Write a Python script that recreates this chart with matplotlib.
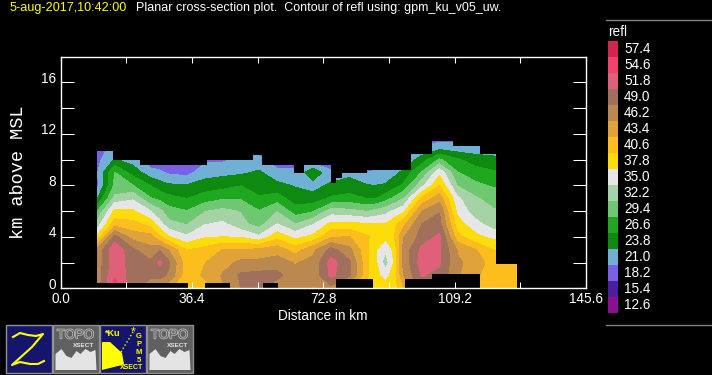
import numpy as np
from matplotlib import pyplot as plt
from matplotlib import patheffects
from matplotlib.patches import Rectangle, Polygon
from matplotlib.transforms import ScaledTranslation

plt.rcParams['font.family'] = ['Liberation Sans', 'DejaVu Sans']

levels = [12.6, 15.4, 18.2, 21.0, 23.8, 26.6, 29.4, 32.2, 35.0, 37.8, 40.6, 43.4, 46.2, 49.0, 51.8, 54.6, 57.4]
colors = ['#8b0f92', '#4a1e9e', '#7a60e6', '#6fb0d4', '#0f8a10', '#1fa81f', '#6ec871', '#a5d3a5', '#e6e6e6',
		'#fcdc0a', '#fbbe1c', '#e0a33a', '#bb8850', '#a0705c', '#e0607a', '#f0416f', '#d0254f']

heights = [0, 1, 2, 3, 4, 5, 6, 7, 8, 9, 10, 11, 12] #km
distances = [10, 15, 20, 25, 27.5, 30, 35, 40, 45, 50, 55, 60, 65, 70, 75, 80, 85, 87.5, 90, 92.5, 95, 100, 105, 110, 115, 120, 125, 130] #km

# one line per distance, bottom to top
refl_by_column = [
	[47, 47, 47, 46.5, 38, 33, 29, 23.2, 20, 20.5, 20, 19, 18],
	[56, 54.4, 53.5, 54, 50, 42, 38.5, 33, 30, 29.5, 24, 22, 20],
	[50, 50, 50.5, 49.5, 45, 41.5, 38.2, 34.5, 29.5, 25.5, 22.5, 21, 20],
	[47, 49.5, 49.5, 47, 44.5, 39.5, 35, 29.5, 26.5, 22, 19, 19, 18],
	[46, 50, 52.5, 48.8, 41, 36, 33, 28.5, 25, 21.5, 19, 19, 18],
	[44, 48.5, 49.5, 46, 38, 33, 30.5, 27.5, 24.2, 20.5, 19, 18.5, 18],
	[40, 41.5, 41.5, 40.5, 35.5, 32, 29.5, 26.5, 24, 20, 18.5, 18, 18],
	[42, 44, 43.3, 41.5, 37.5, 34.8, 32, 28, 25, 22.5, 20.5, 19, 18],
	[46, 46.5, 45, 43.5, 37.8, 35.5, 33, 29, 25.5, 23, 20.5, 19, 18],
	[49, 49.5, 47, 43.5, 37.5, 33, 32, 29, 26.5, 23.3, 21.5, 19, 18],
	[49, 50, 47, 44, 35.5, 31, 29.5, 27, 25, 24.2, 22, 19, 18],
	[47, 50, 47.5, 45, 39.5, 35, 32, 28, 24.5, 22, 19, 18.5, 18],
	[48, 47, 46, 42, 37, 32.2, 28, 25, 23.6, 21.5, 20, 19, 18],
	[46, 47, 47, 45.5, 38.5, 34.8, 29, 25, 22.5, 26, 19, 18.5, 18],
	[48, 52.5, 53, 50, 43, 38.5, 33.5, 27, 24.5, 21.5, 19, 18.5, 18],
	[42, 49.5, 49.5, 47, 43.5, 38.5, 33, 27.5, 25, 23, 20, 19, 18],
	[40, 41, 41, 41, 41, 38, 32, 26.5, 23.9, 21, 19, 18.5, 18],
	[39, 38.5, 38, 38, 39, 38, 33, 26.5, 23.8, 21.5, 19, 18.5, 18],
	[39, 36.8, 33.5, 35.3, 38.5, 37.8, 34, 28, 24, 22.5, 20, 19, 18],
	[39.5, 39, 38.2, 38.5, 40.6, 40, 35.5, 30, 25.5, 23, 20.5, 19, 18],
	[43, 46, 47, 47, 46, 42.5, 37, 32, 27, 24.5, 21.5, 20, 18.5],
	[50, 52, 53, 52.5, 50, 49, 46, 41, 34, 29.5, 25, 21, 20],
	[47, 51, 52.2, 52.2, 52.5, 50, 48.8, 45, 40.5, 37, 29.8, 22, 19],
	[45, 46.5, 46.5, 46, 41.5, 39, 37, 35.5, 32, 29.5, 27, 21.5, 20],
	[43, 44, 45.5, 43.5, 38.5, 36, 33.5, 32.5, 30, 28, 25, 22, 20],
	[41.5, 41.5, 41.5, 40.5, 37, 33.5, 32.5, 31, 29, 27, 24.5, 22, 20],
	[41.5, 41.5, 41.5, 41, 38, 34, 33, 31, 29, 27, 24, 22, 20],
	[41.5, 41.5, 41.5, 41, 38, 34, 33, 31, 29, 27, 24, 22, 20],
]

# outline of the echo, stepped
edge_km = [10.1, 14.5, 22.0, 35.4, 40.1, 40.5, 46.9, 53.4, 55.8, 56.2, 60.3, 64.7, 67.4, 74.9, 76.3, 77.9, 85.0, 86.5, 95.4, 97.1, 102.9, 108.8, 116.2, 120.6, 126.5]
echo_top = [10.7, 10.0, 9.6, 9.6, 9.6, 10.0, 10.0, 10.35, 9.6, 9.6, 9.6, 8.95, 9.6, 8.2, 8.6, 8.95, 9.2, 9.2, 9.2, 10.4, 11.45, 11.07, 10.4, 1.87, 1.87]
echo_bottom = [0.4, 0.4, 0.4, 0, 0.4, 0.4, 0, 0, 0, 0.4, 0, 0, 0, 0, 0.7, 0.7, 0.7, 0, 0.7, 0.7, 1.1, 1.1, 0, 0, 0]

fig = plt.figure(figsize=(7.12, 3.75), dpi=100, facecolor='black')
ax = fig.add_axes([60.5/712, (375-288.3)/375, 525.5/712, 231.8/375], facecolor='black')

refl = np.array(refl_by_column).T
cs = ax.contourf(distances, heights, refl, levels=levels+[60.2], colors=colors, antialiased=False)
outline = ax.fill_between(edge_km, echo_bottom, echo_top, step='post', facecolor='none', edgecolor='none')
cs.set_clip_path(outline.get_paths()[0], ax.transData)

ax.set_xlim(0, 145.6)
ax.set_ylim(0, 18)
ax.set_xticks([0, 36.4, 72.8, 109.2, 145.6])
ax.set_xticklabels(['0.0', '36.4', '72.8', '109.2', '145.6'])
ax.set_xticks([18.2, 54.6, 91.0, 127.4], minor=True)
ax.set_yticks([0, 4, 8, 12, 16])
ax.set_yticks([2, 6, 10, 14], minor=True)
ax.tick_params(axis='x', which='both', direction='in', length=4.3, width=0.75, color='white', top=True, labelcolor='white', labelsize=9.8, pad=3)
ax.tick_params(axis='y', which='both', direction='in', length=9.4, width=0.75, color='white', right=True, labelcolor='white', labelsize=9.8, pad=3)
for s in ax.spines.values():
	s.set_color('white')
	s.set_linewidth(1.0)
ax.set_xlabel('Distance in km', color='white', fontsize=9.8, labelpad=2)

# y tick labels sit a bit above their ticks
up = ScaledTranslation(0, 5/100., fig.dpi_scale_trans)
for lab in ax.get_yticklabels():
	lab.set_transform(lab.get_transform()+up)

# everything outside the plot in pixels
px = fig.add_axes([0, 0, 1, 1], facecolor='none')
px.set_xlim(0, 712)
px.set_ylim(375, 0)
px.axis('off')

px.text(10, 8.5, '5-aug-2017,10:42:00', color='#ffff00', fontsize=9.05, va='center')
px.text(136.5, 8.5, 'Planar cross-section plot.  Contour of refl using: gpm_ku_v05_uw.', color='white', fontsize=9.0, va='center')
px.text(19, 172, 'km above MSL', color='white', fontsize=13.4, family='Liberation Mono', rotation=90, ha='center', va='center')

# colour key, top block is the highest level
px.plot([606, 712], [19.5, 19.5], color='#808080', lw=1)
px.plot([606, 712], [324.5, 324.5], color='#808080', lw=1)
px.text(608, 32, 'refl', color='white', fontsize=9.8, va='center')
for i, (lev, col) in enumerate(zip(levels[::-1], colors[::-1])):
	px.add_patch(Rectangle((608, 41+16*i), 10, 16, facecolor=col, edgecolor='none'))
	px.text(624, 49+16*i, '%.1f' % lev, color='white', fontsize=9.8, va='center')

def icon(x, face):
	px.add_patch(Rectangle((x, 325), 46, 47.5, facecolor=face, edgecolor='#909090', lw=1))

def topo_icon(x):
	icon(x, '#606060')
	px.text(x+23, 335.5, 'TOPO', color='#606060', fontsize=9.5, ha='center', va='center',
		path_effects=[patheffects.withStroke(linewidth=1.0, foreground='#c8c8c8')])
	px.text(x+31, 345.5, 'XSECT', color='#e6e6e6', fontsize=4.6, weight='bold', ha='center', va='center')
	px.add_patch(Polygon([(x+3, 370), (x+3, 354), (x+9, 349), (x+14, 356), (x+19, 358), (x+24, 351), (x+28, 354), (x+33, 349), (x+38, 352), (x+43, 350), (x+44, 370)],
		facecolor='#e4e4e4', edgecolor='none'))

icon(5.5, '#15156b')
px.plot([13, 20, 28, 36, 43, 32, 22, 12, 20, 30, 38, 44], [337, 333, 335, 336, 334, 347, 356, 365, 362, 364, 364, 361], color='#ffff00', lw=1.5)
topo_icon(52.5)
icon(99.5, '#15156b')
px.text(113, 334, '*Ku', color='#ffff00', fontsize=6.5, ha='center', va='center', weight='bold')
px.add_patch(Polygon([(102, 342), (110, 342), (122, 353), (124, 364), (122, 365), (102, 370)], facecolor='#ffff00', edgecolor='none'))
px.plot([121, 133], [352, 332], color='#ffff00', lw=1, ls=':')
px.text(133, 332, '*', color='#ffff00', fontsize=9, ha='center', va='center')
for j, ch in enumerate('GPM5'):
	px.text(139, 336+8*j, ch, color='#ffff00', fontsize=5.5, weight='bold', ha='center', va='center')
px.text(132, 367.5, 'XSECT', color='#ffff00', fontsize=5, weight='bold', ha='center', va='center')
topo_icon(146.5)

plt.savefig('out.png', dpi=100, facecolor='black')
